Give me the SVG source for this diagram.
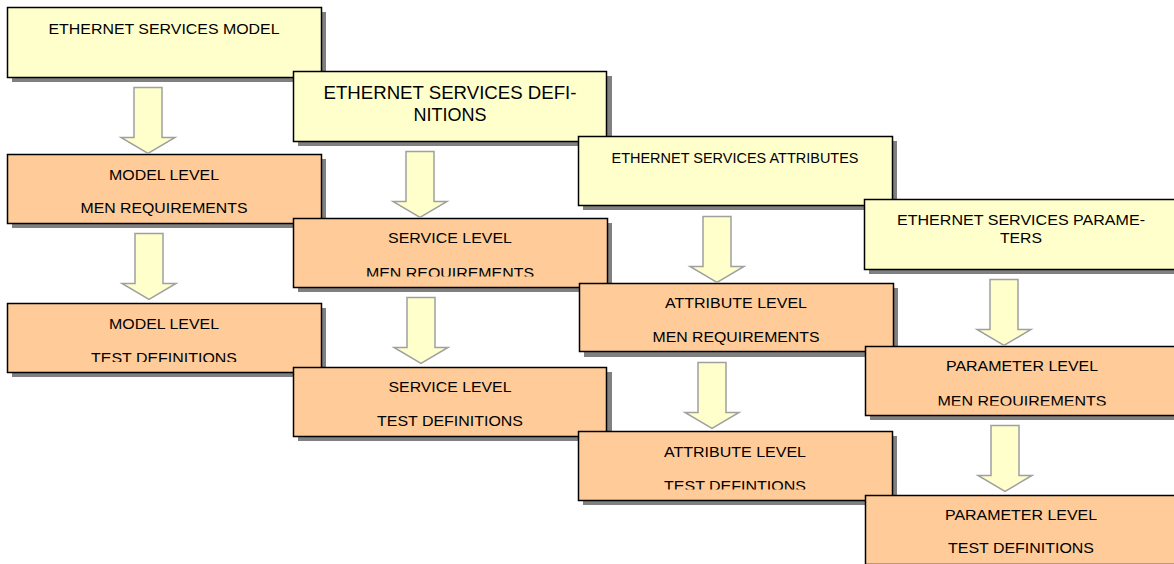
<svg xmlns="http://www.w3.org/2000/svg" width="1174" height="564" viewBox="0 0 1174 564">
<style>
.sh{fill:#808080}
.y{fill:#FFFFCC;stroke:#000;stroke-width:1.5}
.o{fill:#FFCC99;stroke:#000;stroke-width:1.5}
.t{font-family:"Liberation Sans",Arial,sans-serif;font-size:15px;fill:#000;text-anchor:middle}
.t18{font-family:"Liberation Sans",Arial,sans-serif;font-size:18px;fill:#000;text-anchor:middle}
.ar{fill:#FFFFCC;stroke:#A0A0A0;stroke-width:1.5;stroke-linejoin:miter}
</style>
<defs>
<path id="arrow" d="M-14,0 H14 V50 H27 L0,66 L-27,50 H-14 Z"/>
<clipPath id="c1"><rect x="0" y="0" width="400" height="362"/></clipPath>
<clipPath id="c2"><rect x="0" y="0" width="700" height="276.5"/></clipPath>
<clipPath id="c3"><rect x="0" y="0" width="1000" height="489.5"/></clipPath>
<clipPath id="c4"><rect x="0" y="0" width="1174" height="405.5"/></clipPath>
</defs>
<rect width="1174" height="564" fill="#FFFFFF"/>

<g id="n1">
<rect class="sh" x="12" y="12" width="314" height="70"/>
<rect class="y" x="7.5" y="7.5" width="314" height="70"/>
<text class="t" x="164" y="34" textLength="231" lengthAdjust="spacingAndGlyphs">ETHERNET SERVICES MODEL</text>
</g>
<g id="n2">
<rect class="sh" x="12" y="159" width="314" height="69"/>
<rect class="o" x="7.5" y="154.5" width="314" height="69"/>
<text class="t" x="164" y="180" textLength="110" lengthAdjust="spacingAndGlyphs">MODEL LEVEL</text>
<text class="t" x="164" y="213" textLength="167" lengthAdjust="spacingAndGlyphs">MEN REQUIREMENTS</text>
</g>
<g id="n3">
<rect class="sh" x="12" y="308" width="314" height="69"/>
<rect class="o" x="7.5" y="303.5" width="314" height="69"/>
<text class="t" x="164" y="329" textLength="110" lengthAdjust="spacingAndGlyphs">MODEL LEVEL</text>
<text class="t" x="164" y="363" textLength="146" lengthAdjust="spacingAndGlyphs" clip-path="url(#c1)">TEST DEFINITIONS</text>
</g>

<g id="n4">
<rect class="sh" x="298" y="76" width="314" height="70"/>
<rect class="y" x="293.5" y="71.5" width="313" height="70"/>
<text class="t18" x="450" y="99" textLength="253" lengthAdjust="spacingAndGlyphs">ETHERNET SERVICES DEFI-</text>
<text class="t18" x="450" y="121" textLength="73" lengthAdjust="spacingAndGlyphs">NITIONS</text>
</g>
<g id="n5">
<rect class="sh" x="298" y="223" width="314" height="69"/>
<rect class="o" x="293.5" y="218.5" width="314" height="69"/>
<text class="t" x="450" y="243" textLength="124" lengthAdjust="spacingAndGlyphs">SERVICE LEVEL</text>
<text class="t" x="450" y="277.5" textLength="168" lengthAdjust="spacingAndGlyphs" clip-path="url(#c2)">MEN REQUIREMENTS</text>
</g>
<g id="n6">
<rect class="sh" x="298" y="372" width="314" height="69"/>
<rect class="o" x="293.5" y="367.5" width="313" height="69"/>
<text class="t" x="450" y="392" textLength="123" lengthAdjust="spacingAndGlyphs">SERVICE LEVEL</text>
<text class="t" x="450" y="426" textLength="146" lengthAdjust="spacingAndGlyphs">TEST DEFINITIONS</text>
</g>

<g id="n7">
<rect class="sh" x="583" y="141" width="314" height="69"/>
<rect class="y" x="578.5" y="136.5" width="314" height="69"/>
<text class="t" x="735" y="163" textLength="247" lengthAdjust="spacingAndGlyphs">ETHERNET SERVICES ATTRIBUTES</text>
</g>
<g id="n8">
<rect class="sh" x="584" y="288" width="314" height="69"/>
<rect class="o" x="579.5" y="283.5" width="314" height="68"/>
<text class="t" x="736" y="308" textLength="142" lengthAdjust="spacingAndGlyphs">ATTRIBUTE LEVEL</text>
<text class="t" x="736" y="342" textLength="167" lengthAdjust="spacingAndGlyphs">MEN REQUIREMENTS</text>
</g>
<g id="n9">
<rect class="sh" x="583" y="436" width="314" height="69"/>
<rect class="o" x="578.5" y="431.5" width="314" height="69"/>
<text class="t" x="735" y="457" textLength="142" lengthAdjust="spacingAndGlyphs">ATTRIBUTE LEVEL</text>
<text class="t" x="735" y="490.5" textLength="142" lengthAdjust="spacingAndGlyphs" clip-path="url(#c3)">TEST DEFINTIONS</text>
</g>

<g id="n10">
<rect class="sh" x="869" y="204" width="314" height="70"/>
<rect class="y" x="864.5" y="199.5" width="314" height="70"/>
<text class="t" x="1021" y="225" textLength="248" lengthAdjust="spacingAndGlyphs">ETHERNET SERVICES PARAME-</text>
<text class="t" x="1021" y="243" textLength="42" lengthAdjust="spacingAndGlyphs">TERS</text>
</g>
<g id="n11">
<rect class="sh" x="870" y="351" width="314" height="69"/>
<rect class="o" x="865.5" y="346.5" width="314" height="69"/>
<text class="t" x="1022" y="371" textLength="152" lengthAdjust="spacingAndGlyphs">PARAMETER LEVEL</text>
<text class="t" x="1022" y="405.5" textLength="169" lengthAdjust="spacingAndGlyphs" clip-path="url(#c4)">MEN REQUIREMENTS</text>
</g>
<g id="n12">
<rect class="sh" x="870" y="500" width="314" height="69"/>
<rect class="o" x="865.5" y="495.5" width="314" height="69"/>
<text class="t" x="1021" y="520" textLength="152" lengthAdjust="spacingAndGlyphs">PARAMETER LEVEL</text>
<text class="t" x="1021" y="553" textLength="146" lengthAdjust="spacingAndGlyphs">TEST DEFINITIONS</text>
</g>

<g id="connectors">
<use href="#arrow" class="ar" transform="translate(148,87.5)"/>
<use href="#arrow" class="ar" transform="translate(149,233.5)"/>
<use href="#arrow" class="ar" transform="translate(420,151.5)"/>
<use href="#arrow" class="ar" transform="translate(421,297.5)"/>
<use href="#arrow" class="ar" transform="translate(717,216.5)"/>
<use href="#arrow" class="ar" transform="translate(712,362.5)"/>
<use href="#arrow" class="ar" transform="translate(1004,279.5)"/>
<use href="#arrow" class="ar" transform="translate(1005,425.5)"/>
</g>
</svg>
